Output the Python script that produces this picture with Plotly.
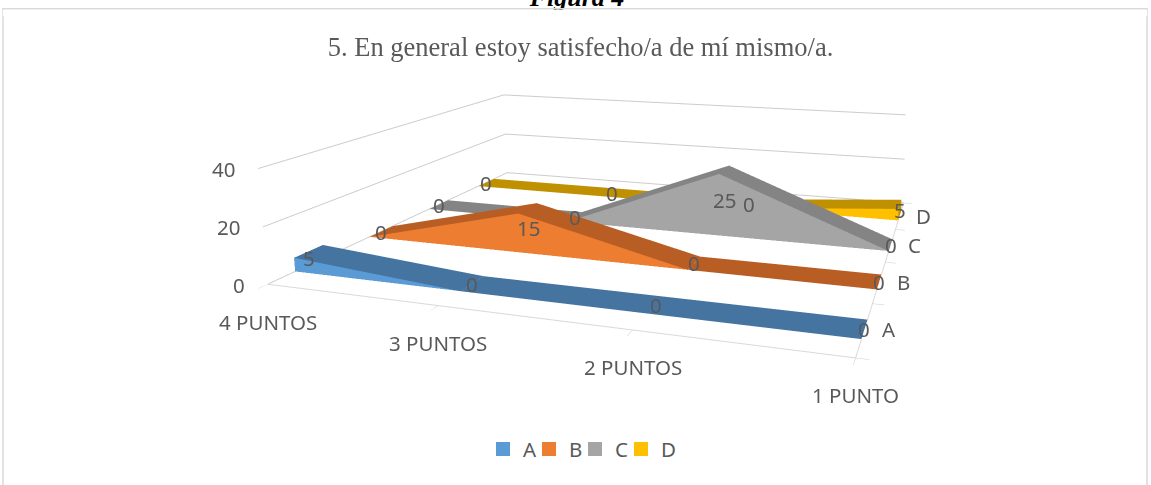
import plotly.graph_objects as go

W, H = 1151, 485
# the scene needs a long focal length and an off-centre view point, so the page is
# bigger than the window and gets moved up behind it
PAGE_W, PAGE_H = 1330, 800
SHIFT = 277.2
SCENE_CX, SCENE_H = 778.89, 658.4

categories = ["4 PUNTOS", "3 PUNTOS", "2 PUNTOS", "1 PUNTO"]
series = ["A", "B", "C", "D"]
values_a = [5, 0, 0, 0]
values_b = [0, 15, 0, 0]
values_c = [0, 0, 25, 0]
values_d = [0, 0, 0, 5]
z_ticks = [0, 20, 40]
all_values = [values_a, values_b, values_c, values_d]

front_colors = ["#5B9BD5", "#ED7D31", "#A5A5A5", "#FFC000"]
top_colors = ["#44749F", "#B85E24", "#848484", "#BF9000"]
GRID = "#CCCCCC"
Y0, Y1 = 0.3155, 0.6751

FLAT = dict(ambient=1, diffuse=0, specular=0, fresnel=0, roughness=1)
LABEL = dict(family="Noto Sans", size=20.5, color="#595959")


def ribbon(i, vals):
    y0, y1 = i + Y0, i + Y1
    n = len(vals)
    fx, fy, fz, fi, fj, fk = [], [], [], [], [], []
    tx, ty, tz, ti, tj, tk = [], [], [], [], [], []
    for c, v in enumerate(vals):
        fx += [c, c]; fy += [y0, y0]; fz += [0, v]
        tx += [c, c]; ty += [y0, y1]; tz += [v, v]
    for c in range(n - 1):
        a = 2 * c
        fi += [a, a + 1]; fj += [a + 1, a + 3]; fk += [a + 2, a + 2]
        ti += [a, a + 1]; tj += [a + 1, a + 3]; tk += [a + 2, a + 2]
    # end cap on the right
    base = len(tx)
    tx += [n - 1] * 4; ty += [y0, y1, y0, y1]; tz += [0, 0, vals[-1], vals[-1]]
    ti += [base, base + 1]; tj += [base + 1, base + 3]; tk += [base + 2, base + 2]
    return (fx, fy, fz, fi, fj, fk), (tx, ty, tz, ti, tj, tk)


def axis(rng, ticks):
    return dict(range=rng, tickvals=ticks, showbackground=False, showgrid=False, zeroline=False,
                showticklabels=False, title=dict(text=""), showspikes=False, showline=False,
                ticks="outside", ticklen=8, tickcolor=GRID)


def py(y):
    return 1 - (y + SHIFT) / PAGE_H


last_cat = len(categories) - 1
n_series = len(series)

fig = go.Figure()
for i, vals in enumerate(all_values):
    front, top = ribbon(i, vals)
    for part, col in ((front, front_colors[i]), (top, top_colors[i])):
        fig.add_trace(go.Mesh3d(x=part[0], y=part[1], z=part[2], i=part[3], j=part[4], k=part[5],
                                color=col, flatshading=True, lighting=FLAT, hoverinfo="skip",
                                showscale=False))
    fig.add_trace(go.Scatter(x=[None], y=[None], mode="markers", name=series[i],
                             marker=dict(symbol="square", size=14, color=front_colors[i]),
                             hoverinfo="skip"))
# blank entry, otherwise the legend box cuts off the last name
fig.add_trace(go.Scatter(x=[None], y=[None], mode="markers", name=" ",
                         marker=dict(color="white", size=1), hoverinfo="skip"))

# floor edges, the depth one stops where a ribbon ends on it
edge_y = [0]
for i in range(n_series):
    edge_y += [i + Y0, None, i + Y1]
edge_y += [n_series]
edge_x = [last_cat if v is not None else None for v in edge_y]
edge_z = [0 if v is not None else None for v in edge_y]
fig.add_trace(go.Scatter3d(x=[0, last_cat, None] + edge_x, y=[0, 0, None] + edge_y, z=[0, 0, None] + edge_z,
                           mode="lines", line=dict(color="#D9D9D9", width=2), showlegend=False,
                           hoverinfo="skip"))

# caption of the page, cut off by the chart area
fig.add_trace(go.Scatter(x=[577], y=[-1], mode="text", text=["<b><i>Figura 4</i></b>"], showlegend=False,
                         textfont=dict(family="Liberation Serif", size=26, color="black"),
                         hoverinfo="skip"))

notes = []
for i, vals in enumerate(all_values):
    for c, v in enumerate(vals):
        notes.append(dict(x=c, y=i + (Y0 + Y1) / 2, z=v / 2, text=str(v), showarrow=False, font=LABEL))
for c, name in enumerate(categories):
    notes.append(dict(x=c, y=0, z=0, text=name, showarrow=False, font=LABEL, yshift=-37))
for i, name in enumerate(series):
    notes.append(dict(x=last_cat, y=i + 0.5, z=0, text=name, showarrow=False, font=LABEL, xshift=24))
for t in z_ticks:
    notes.append(dict(x=0, y=0, z=t, text=str(t), showarrow=False, font=LABEL, xanchor="right", xshift=-21))

zaxis = axis([0, 40], z_ticks)
zaxis.update(showgrid=True, gridcolor=GRID, gridwidth=2, ticks="")

fig.update_layout(
    width=PAGE_W, height=PAGE_H, margin=dict(l=0, r=0, t=0, b=0),
    paper_bgcolor="white", plot_bgcolor="white",
    title=dict(text="5. En general estoy satisfecho/a de mí mismo/a.", x=580.5 / PAGE_W, y=py(47),
               xanchor="center", yanchor="middle",
               font=dict(family="Liberation Serif", size=26.5, color="#595959")),
    xaxis=dict(visible=False, range=[0, PAGE_W]),
    yaxis=dict(visible=False, range=[PAGE_H - SHIFT, -SHIFT]),
    legend=dict(orientation="h", x=483 / PAGE_W, xanchor="left", y=py(449), yanchor="middle",
                font=LABEL, itemwidth=30, entrywidth=1, entrywidthmode="pixels"),
    scene=dict(
        domain=dict(x=[(SCENE_CX - 540) / PAGE_W, (SCENE_CX + 540) / PAGE_W], y=[1 - SCENE_H / PAGE_H, 1]),
        aspectmode="manual",
        aspectratio=dict(x=2.0, y=1.4084, z=0.4012),
        camera=dict(eye=dict(x=1.3033, y=-2.7656, z=0.9137), center=dict(x=0.3410, y=1.0358, z=0.4186),
                    up=dict(x=-0.0001, y=0.0021, z=1)),
        xaxis=axis([0, last_cat], list(range(len(categories)))),
        yaxis=axis([0, n_series], list(range(n_series + 1))),
        zaxis=zaxis,
        annotations=notes,
    ),
    shapes=[
        dict(type="rect", xref="x", yref="y", x0=3, x1=1147, y0=8.5, y1=600, line=dict(color="#D9D9D9", width=1.5)),
        dict(type="rect", xref="x", yref="y", x0=3, x1=1147, y0=9.5, y1=16, layer="above",
             line=dict(width=0), fillcolor="white"),
    ],
)

fig.write_html(
    "out.html",
    post_script=(
        "document.documentElement.style.overflow='hidden';"
        "document.body.style.overflow='hidden';document.body.style.margin='0';"
        "document.body.style.height='485px';"
        "var gd=document.getElementById('{plot_id}');gd.style.position='absolute';"
        "gd.style.top='-277.2px';gd.style.left='0';"
    ),
    config={"displayModeBar": False},
)
